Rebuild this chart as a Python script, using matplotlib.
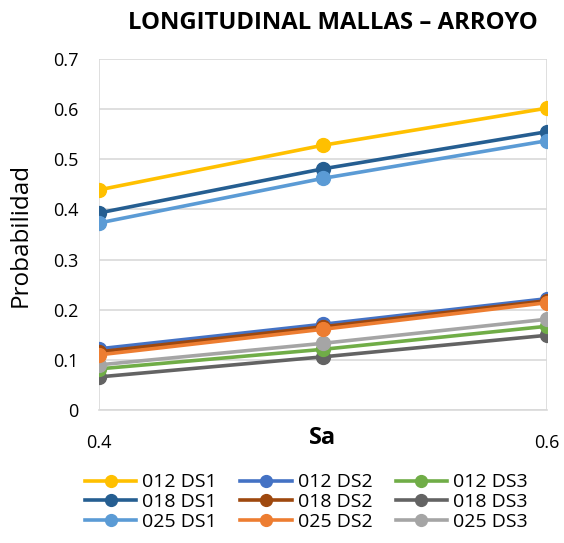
import matplotlib
matplotlib.use("Agg")
import matplotlib.pyplot as plt

sa = [0.4, 0.5, 0.6]
labels = ["012 DS1", "018 DS1", "025 DS1",
          "012 DS2", "018 DS2", "025 DS2",
          "012 DS3", "018 DS3", "025 DS3"]
s012_ds1 = [0.439, 0.528, 0.602]
s018_ds1 = [0.393, 0.481, 0.555]
s025_ds1 = [0.373, 0.462, 0.537]
s012_ds2 = [0.122, 0.171, 0.222]
s018_ds2 = [0.116, 0.166, 0.218]
s025_ds2 = [0.110, 0.161, 0.214]
s012_ds3 = [0.082, 0.121, 0.167]
s018_ds3 = [0.066, 0.106, 0.149]
s025_ds3 = [0.090, 0.133, 0.181]
series = [s012_ds1, s018_ds1, s025_ds1, s012_ds2, s018_ds2, s025_ds2,
          s012_ds3, s018_ds3, s025_ds3]
colors = ["#FFC000", "#255E91", "#5B9BD5", "#4472C4", "#9E480E", "#ED7D31",
          "#70AD47", "#636363", "#A5A5A5"]
yticks = [0, 0.1, 0.2, 0.3, 0.4, 0.5, 0.6, 0.7]
ytick_labels = ["0", "0.1", "0.2", "0.3", "0.4", "0.5", "0.6", "0.7"]
xticks = [0.4, 0.6]
xtick_labels = ["0.4", "0.6"]

plt.rcParams['font.family'] = ['Open Sans', 'DejaVu Sans']
fig = plt.figure(figsize=(5.64, 5.43), dpi=100)
ax = fig.add_axes([99/564, 1-410/543, (547-99)/564, (410-59)/543])

handles = [None]*9
for i in [0, 1, 2, 7, 6, 8, 3, 4, 5]:
    h, = ax.plot(sa, series[i], color=colors[i], lw=2.6, marker='o', ms=10,
                 label=labels[i], zorder=3)
    handles[i] = h

ax.set_xlim(0.4, 0.6)
ax.set_ylim(0, 0.7)
ax.set_yticks(yticks)
ax.set_yticklabels(ytick_labels)
ax.set_xticks(xticks)
ax.set_xticklabels(xtick_labels)
ax.grid(axis='y', color='#D9D9D9', lw=1.2)
ax.grid(axis='x', color='#D9D9D9', lw=1.2)
for s in ax.spines.values():
    s.set_visible(False)
ax.spines['bottom'].set_visible(True)
ax.spines['bottom'].set_color('#D9D9D9')
ax.spines['bottom'].set_linewidth(1.2)
ax.tick_params(axis='both', length=0, labelsize=13, colors='#000000')
ax.tick_params(axis='y', pad=15)
ax.tick_params(axis='x', pad=17)

ax.set_ylabel("Probabilidad", fontsize=17.5)
ax.yaxis.set_label_coords(-0.175, 0.5)
ax.yaxis.label.set_va('center')
ax.set_xlabel("Sa", fontsize=17, fontweight='bold')
ax.xaxis.set_label_coords(0.5, -0.08)
ax.xaxis.label.set_va('center')

fig.text(333/564, 1-23/543, "LONGITUDINAL MALLAS \u2013 ARROYO", fontsize=17.2,
         fontweight='bold', ha='center', va='center')

leg = fig.legend(handles, labels, ncol=3, loc='center',
                 bbox_to_anchor=(0.543, 1-502/543), frameon=False,
                 fontsize=14, handlelength=2.65, columnspacing=1.2,
                 labelspacing=0.08, handletextpad=0.3, markerscale=0.85)

fig.savefig("out.png", dpi=100)
